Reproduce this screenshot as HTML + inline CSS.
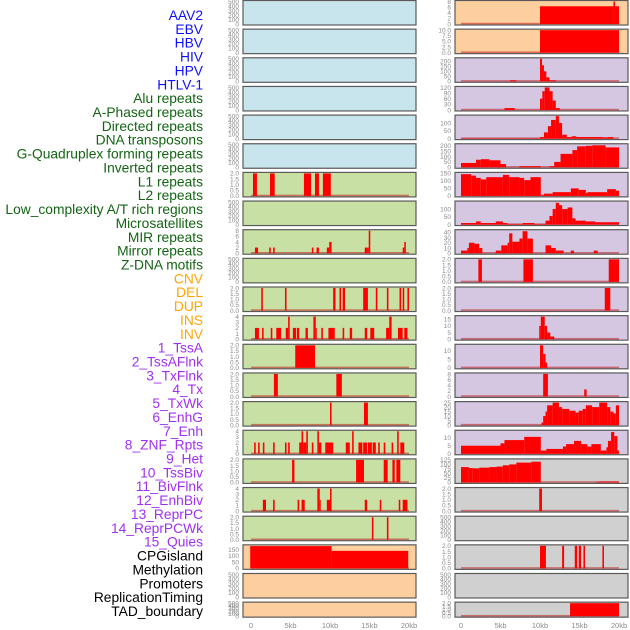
<!DOCTYPE html>
<html><head><meta charset="utf-8"><style>
body{margin:0;background:#fff;width:630px;height:630px;overflow:hidden;font-family:"Liberation Sans",sans-serif}
svg{position:absolute;left:0;top:0}
</style></head><body>
<svg id="c" width="630" height="630"></svg>
<script>
const labels=["AAV2","EBV","HBV","HIV","HPV","HTLV-1","Alu repeats","A-Phased repeats","Directed repeats","DNA transposons","G-Quadruplex forming repeats","Inverted repeats","L1 repeats","L2 repeats","Low_complexity A/T rich regions","Microsatellites","MIR repeats","Mirror repeats","Z-DNA motifs","CNV","DEL","DUP","INS","INV","1_TssA","2_TssAFlnk","3_TxFlnk","4_Tx","5_TxWk","6_EnhG","7_Enh","8_ZNF_Rpts","9_Het","10_TssBiv","11_BivFlnk","12_EnhBiv","13_ReprPC","14_ReprPCWk","15_Quies","CPGisland","Methylation","Promoters","ReplicationTiming","TAD_boundary"];
const labelColors=["#1010f8","#1010f8","#1010f8","#1010f8","#1010f8","#1010f8","#146414","#146414","#146414","#146414","#146414","#146414","#146414","#146414","#146414","#146414","#146414","#146414","#146414","#ffa500","#ffa500","#ffa500","#ffa500","#ffa500","#a030f0","#a030f0","#a030f0","#a030f0","#a030f0","#a030f0","#a030f0","#a030f0","#a030f0","#a030f0","#a030f0","#a030f0","#a030f0","#a030f0","#a030f0","#000","#000","#000","#000","#000"];
const xTicks=[0,5,10,15,20];
const xTickLabels=["0","5kb","10kb","15kb","20kb"];
const E5=[0,100,200,300,400,500],T2=[0,0.5,1,1.5,2],T4=[0,1,2,3,4],T8=[0,2,4,6,8];
const leftMax=[500,500,500,500,500,500,2,500,8,500,2,4,2,2,2,4,2,4,2,180,500,500];
const leftTicks=[E5,E5,E5,E5,E5,E5,T2,E5,T8,E5,T2,T4,T2,T2,T2,T4,T2,T4,T2,[0,50,100,150],E5,E5];
const leftBg=["#c8e4ec","#c8e4ec","#c8e4ec","#c8e4ec","#c8e4ec","#c8e4ec","#c8e0a4","#c8e0a4","#c8e0a4","#c8e0a4","#c8e0a4","#c8e0a4","#c8e0a4","#c8e0a4","#c8e0a4","#c8e0a4","#c8e0a4","#c8e0a4","#c8e0a4","#fecf9e","#fecf9e","#fecf9e"];
const leftBars=[[],[],[],[],[],[],
[[0.25,0.75,2],[2.4,3.0,2],[6.7,7.6,2],[8.1,8.6,2],[9.1,10.1,2]],
[],
[[0.5,0.9,2],[2.3,2.5,2],[2.8,3.0,2],[7.7,7.9,2],[8.3,8.6,2],[9.6,9.9,2],[9.9,10.2,4],[14.4,14.7,2],[14.7,14.9,2],[14.9,15.1,8],[19.2,19.4,2],[19.4,19.6,4]],
[],
[[1.3,1.5,2],[4.3,4.5,2],[10.4,10.7,2],[11.2,11.4,2],[11.6,11.9,2],[14.2,14.8,2],[15.8,16.0,2],[17.2,17.4,2],[18.8,19.0,2],[19.2,19.4,2],[19.8,20.0,2]],
[[0.5,1.0,2],[1.4,1.6,2],[2.5,2.7,2],[3.2,3.8,2],[4.4,4.7,2],[4.7,4.9,4],[5.3,5.7,2],[5.8,6.1,2],[6.9,7.2,2],[7.9,8.2,4],[8.2,8.3,2],[8.9,9.1,2],[9.8,10.6,2],[11.6,11.8,2],[12.5,12.8,2],[14.4,14.7,2],[15.1,15.6,2],[17.1,17.5,2],[17.5,17.8,4],[18.6,19.2,2],[19.4,19.8,2]],
[[5.6,8.1,2]],
[[2.9,3.4,2],[10.8,11.5,2]],
[[10.0,10.2,2],[14.3,14.8,2]],
[[0.4,0.6,2],[0.9,1.1,2],[1.5,1.7,2],[2.8,3.0,2],[4.3,4.5,2],[4.7,4.9,2],[6.1,6.4,2],[6.4,6.6,4],[6.6,7.0,2],[7.0,7.2,4],[7.7,7.9,2],[8.4,8.6,4],[8.6,8.9,2],[9.4,10.4,2],[12.0,12.5,2],[12.8,13.0,4],[13.6,14.1,2],[14.2,14.7,2],[14.8,15.3,2],[15.4,15.8,2],[16.1,16.3,2],[16.8,17.0,2],[17.8,18.0,2],[18.5,18.7,4],[18.9,19.4,2]],
[[5.2,5.5,2],[13.3,13.8,2],[13.8,14.3,2],[16.8,17.3,2],[17.9,18.2,2],[18.4,18.9,2]],
[[1.5,1.9,2],[2.8,3.0,2],[5.9,6.1,2],[6.4,6.8,2],[8.4,8.7,4],[8.7,8.8,2],[9.6,10.0,2],[10.0,10.2,4],[14.4,14.7,2],[16.3,16.5,2],[18.7,18.9,2],[19.2,19.8,2]],
[[15.3,15.5,2],[17.2,17.4,2]],
[[-0.1,10.2,178],[10.2,19.9,140]],
[],[]];
const rightMax=[8,10,225,120,145,210,150,145,43,2,2,17,13,8,25,14,125,2,500,2,500,2];
const rightTicks=[T8,[0,2.5,5,7.5,10],[0,50,100,150,200],[0,30,60,90,120],[0,50,100],[0,50,100,150,200],[0,50,100,150],[0,50,100],[0,10,20,30,40],T2,T2,[0,5,10,15],[0,5,10],T8,[0,5,10,15,20,25],[0,5,10],[0,25,50,75,100,125],T2,E5,T2,E5,T2];
const rightBg=["#fecf9e","#fecf9e","#d5c6e2","#d5c6e2","#d5c6e2","#d5c6e2","#d5c6e2","#d5c6e2","#d5c6e2","#d5c6e2","#d5c6e2","#d5c6e2","#d5c6e2","#d5c6e2","#d5c6e2","#d5c6e2","#d0d0d0","#d0d0d0","#d0d0d0","#d0d0d0","#d0d0d0","#d0d0d0"];
const rightBars=[
[[10,19.3,6.3],[19.3,19.5,8],[19.5,20,6.3]],
[[10,20,10]],
[[6.2,7.0,10],[10,10.25,225],[10.25,10.5,160],[10.5,10.8,100],[10.8,11.2,40],[11.2,12,10]],
[[5.5,6.8,10],[10,10.3,60],[10.3,10.6,100],[10.6,11.2,120],[11.2,11.6,100],[11.6,12,50],[12,12.5,10]],
[[0,10,2],[10,10.5,10],[10.5,11,40],[11,11.4,80],[11.4,12,120],[12,12.4,145],[12.4,12.8,100],[12.8,13.4,25],[13.4,14,10],[14,14.6,15],[14.6,18,10],[18,18.6,8],[18.6,19.3,10]],
[[0,1.9,40],[1.9,2.5,70],[2.5,3.6,75],[3.6,5,65],[5,5.7,30],[7.4,10.1,10],[11.2,11.8,10],[11.8,12.6,50],[12.6,14.1,125],[14.1,14.7,160],[14.7,15.8,195],[15.8,16.6,200],[16.6,18.3,205],[18.3,20,185]],
[[0,1.3,145],[1.3,1.9,135],[1.9,2.5,120],[2.5,3.2,110],[3.2,5.3,125],[5.3,6.1,140],[6.1,7.4,125],[7.4,8,120],[8,8.8,105],[8.8,10.1,125],[10.1,10.5,5],[10.5,11.6,15],[11.6,13.9,25],[13.9,14.9,50],[14.9,15.8,40],[15.8,16,20],[16,18.1,25],[18.1,18.5,25],[18.5,19.6,45],[19.6,20,35]],
[[0,1.9,10],[1.9,2.5,20],[2.5,4.4,10],[4.4,5.3,20],[5.3,5.9,10],[5.9,7.8,3],[7.8,9.3,10],[9.3,10.7,3],[10.7,11.2,25],[11.2,11.6,55],[11.6,12,100],[12,12.4,140],[12.4,12.8,125],[12.8,13.5,100],[13.5,14.1,110],[14.1,14.5,40],[14.5,15.8,25],[15.8,17,20],[17,20,15]],
[[0,0.8,5],[0.8,1,10],[1,1.7,20],[1.7,2.3,18],[2.3,2.7,10],[4.4,5.1,5],[5.1,5.9,15],[5.9,6.1,20],[6.1,6.5,38],[6.5,7.4,22],[7.4,7.8,28],[7.8,8.4,42],[8.4,9.1,28],[10.7,11.4,15],[11.4,12,10],[12,13,5],[13.9,14.3,5],[16.8,17.3,5]],
[[2.2,2.65,2],[7.9,9.1,2],[18.7,20,2]],
[[18.2,18.9,2]],
[[9.9,10.1,10],[10.1,10.6,17],[10.6,10.9,10],[10.9,11.3,5],[11.3,11.8,2]],
[[10,10.4,13],[10.4,10.7,8],[10.7,10.9,3]],
[[10.4,11,8],[15.6,15.9,2.5]],
[[10.2,10.4,3],[10.4,10.7,10],[10.7,10.9,15],[10.9,11.6,22],[11.6,12.4,25],[12.4,12.8,20],[12.8,13.7,18],[13.7,14.5,16],[14.5,14.9,14],[14.9,15.4,16],[15.4,15.8,18],[15.8,16.6,22],[16.6,17.5,20],[17.5,18.5,25],[18.5,18.9,20],[18.9,19.3,15],[19.3,19.6,13],[19.6,20,22]],
[[0,5,5],[5,5.5,6.5],[5.5,8,8.5],[8,10.1,10.5],[10.1,10.8,2],[10.8,12.9,3],[12.9,13.3,4.5],[13.3,14.3,6],[14.3,15.2,8],[15.2,16,6],[16,16.5,4.5],[16.5,17.7,6],[17.7,18.4,2],[18.4,18.6,4],[18.6,19,8],[19,19.4,13.5],[19.4,19.8,11],[19.8,20,2]],
[[0,1,85],[1,1.5,80],[1.5,2.3,78],[2.3,3.6,82],[3.6,4.5,85],[4.5,5.3,88],[5.3,6.1,95],[6.1,7,100],[7,8.9,110],[8.9,10.1,115],[17.1,17.5,3],[17.5,20,5]],
[[9.9,10.25,2]],
[],
[[10,10.75,2],[12.8,13.05,2],[14.4,14.7,2],[14.9,15.2,2],[15.5,15.7,2],[17.9,18.1,2]],
[],
[[13.8,20,2]]];

const NS="http://www.w3.org/2000/svg";
const svg=document.getElementById('c');
function el(tag,attrs,parent){const e=document.createElementNS(NS,tag);for(const k in attrs)e.setAttribute(k,attrs[k]);(parent||svg).appendChild(e);return e;}
const colX=[243,455];
const colOff=[8,6];
const PW=173;
function xScale(col,kb){return colX[col]+colOff[col]+kb*7.9;}
function rowTop(i){return 0.5+28.65*i;}
function rowH(i){return i===21?15:24.5;}
function yScale(i,ymax,v){const t=rowTop(i),h=rowH(i);return t+h-1-(v/ymax)*(h-2);}
function fmtTicks(ticks){
  let dec=0;
  ticks.forEach(v=>{const s=String(v);if(s.includes('.'))dec=Math.max(dec,s.split('.')[1].length);});
  return ticks.map(v=>v.toFixed(dec));
}

const lg=el('g',{});


labels.forEach((s,k)=>{
  const t=el('text',{x:203,y:20+k*13.86,'text-anchor':'end','font-size':'13.8',fill:labelColors[k]},lg);
  t.textContent=s;
  
  
});

function drawPanel(col,i,ymax,ticks,bg,bars){
  const g=el('g',{});
  
  
  const t=rowTop(i),h=rowH(i),x0=colX[col];
  el('rect',{x:x0,y:t,width:PW,height:h,fill:bg,stroke:'#5a5a5a','stroke-width':1.2},g);
  const labs=fmtTicks(ticks);
  ticks.forEach((v,k)=>{
    const tx=el('text',{x:x0-4,y:yScale(i,ymax,v)+2.3,'text-anchor':'end','font-size':'6.5',fill:'#8a8a8a'},g);
    tx.textContent=labs[k];
    
    
  });
  const showBase=!(ymax===500&&bars.length===0);
  if(showBase){
    const b=el('rect',{x:xScale(col,0),y:t+h-2.2,width:xScale(col,20)-xScale(col,0),height:1.6,fill:'rgba(190,30,30,0.55)'},g);
    
    
  }
  bars.forEach(d=>{
    const y=yScale(i,ymax,d[2]);
    const r=el('rect',{x:xScale(col,d[0]),y:y,width:Math.max(1,xScale(col,d[1])-xScale(col,d[0])),height:t+h-1-y,fill:'#ff0000'},g);
    
    
  });
}
for(let i=0;i<22;i++){
  drawPanel(0,i,leftMax[i],leftTicks[i],leftBg[i],leftBars[i]);
  drawPanel(1,i,rightMax[i],rightTicks[i],rightBg[i],rightBars[i]);
}
[0,1].forEach(col=>{
  xTicks.forEach((v,k)=>{
    const tx=el('text',{x:xScale(col,v),y:628,'text-anchor':'middle','font-size':'7.5',fill:'#8a8a8a'});
    tx.textContent=xTickLabels[k];
    
    
  });
});
</script>
</body></html>
